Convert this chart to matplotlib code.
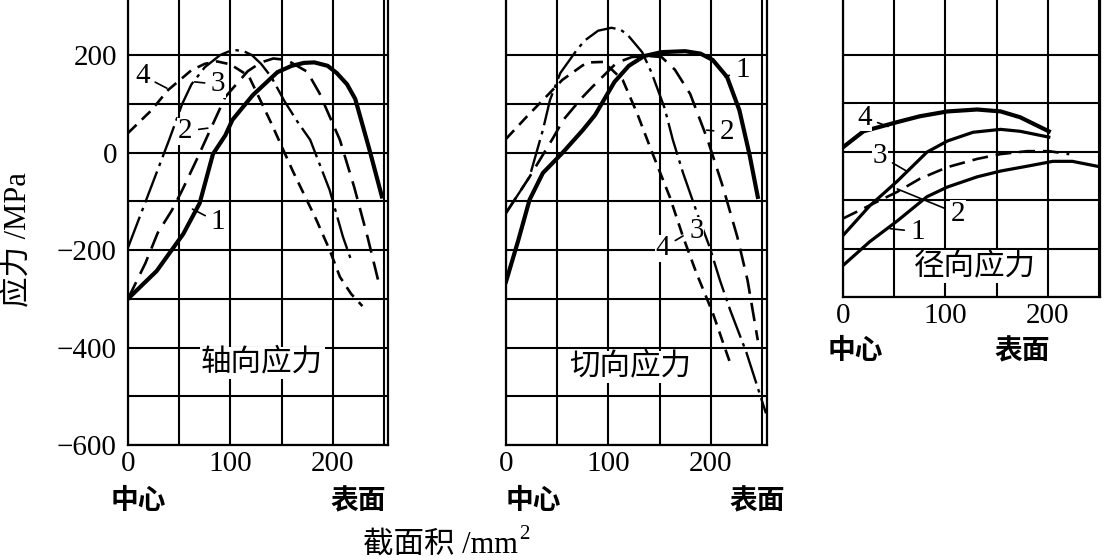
import matplotlib
matplotlib.use("Agg")
import matplotlib.pyplot as plt

plt.rcParams['font.family'] = ['Liberation Serif', 'Noto Sans CJK SC']

# ---- data (x: 截面积 mm^2, y: 应力 MPa) ----
# 轴向应力
axial_x1 = [0, 28, 54, 70, 83, 95, 102, 122, 146, 160, 172, 182, 195, 204, 214, 222, 236, 248]
axial_y1 = [-300, -243, -167, -104, -3, 35, 67, 118, 165, 178, 184, 185, 178, 163, 140, 110, 5, -90]
axial_x2 = [0, 17, 29, 43, 53, 67, 80, 95, 117, 130, 142, 155, 175, 187, 207, 221, 234, 246]
axial_y2 = [-300, -227, -165, -118, -77, -15, 45, 114, 167, 185, 193, 190, 166, 122, 26, -71, -173, -276]
axial_x3 = [0, 20, 40, 53, 62, 75, 90, 98, 106, 114, 121, 130, 140, 153, 165, 178, 197, 210, 219]
axial_y3 = [-195, -85, 25, 100, 140, 175, 200, 207, 210, 207, 200, 182, 155, 105, 65, 26, -77, -173, -227]
axial_x4 = [0, 23, 39, 62, 75, 87, 100, 118, 140, 161, 184, 197, 207, 218, 229]
axial_y4 = [40, 87, 128, 169, 182, 187, 181, 157, 60, -38, -138, -200, -255, -290, -315]

# 切向应力
tang_x1 = [0, 12, 23, 36, 55, 75, 87, 106, 120, 135, 152, 175, 190, 202, 216, 228, 238, 246]
tang_y1 = [-265, -180, -97, -42, -1, 46, 77, 145, 178, 198, 206, 208, 203, 190, 155, 87, -5, -91]
tang_x2 = [0, 23, 46, 56, 74, 84, 108, 123, 140, 152, 165, 180, 197, 212, 226, 236, 246]
tang_y2 = [-124, -50, 30, 67, 112, 134, 184, 196, 198, 196, 170, 120, 26, -71, -173, -262, -385]
tang_x3 = [0, 23, 36, 43, 53, 69, 77, 90, 103, 112, 119, 133, 142, 155, 163, 173, 189, 199, 209, 219, 235, 254]
tang_y3 = [-124, -50, 46, 108, 163, 210, 230, 250, 256, 252, 241, 206, 165, 91, 26, -42, -138, -194, -262, -323, -411, -535]
tang_x4 = [0, 20, 38, 55, 75, 82, 95, 101, 114, 128, 143, 160, 173, 186, 202, 219]
tang_y4 = [28, 73, 112, 149, 179, 185, 186, 175, 149, 81, -1, -91, -173, -247, -329, -432]

# 径向应力
rad_x1 = [0, 26, 53, 82, 102, 131, 154, 180, 205, 224, 248]
rad_y1 = [-235, -186, -143, -93, -73, -52, -40, -30, -20, -20, -30]
rad_x2 = [0, 53, 75, 102, 131, 154, 180, 201, 221]
rad_y2 = [-138, -83, -56, -32, -15, -5, 1, 1, -5]
rad_x3 = [0, 26, 53, 82, 102, 127, 154, 173, 201]
rad_y3 = [-173, -112, -61, -1, 22, 40, 46, 42, 30]
rad_x4 = [0, 20, 53, 75, 102, 131, 154, 173, 201]
rad_y4 = [9, 42, 61, 73, 83, 87, 83, 71, 42]

xtick_vals = [0, 100, 200]
xtick_labels = ['0', '100', '200']
ytick_vals = [-600, -400, -200, 0, 200]
ytick_labels = ['\u2212600', '\u2212400', '\u2212200', '0', '200']

W, H = 1104, 560
fig = plt.figure(figsize=(W / 100, H / 100), dpi=100)


def px_axes(left, right, top, bottom):
    # axes placed by pixel edges of the reference picture
    return fig.add_axes([left / W, 1 - bottom / H, (right - left) / W, (bottom - top) / H])


def setup(ax, xmax, ymin, ylabels):
    ax.set_xlim(0, xmax)
    ax.set_ylim(ymin, 313)
    ax.set_xticks(xtick_vals)
    ax.set_xticklabels(xtick_labels, fontsize=21)
    ax.set_xticks([50, 150, 250], minor=True)
    yt = [v for v in ytick_vals if v >= ymin]
    ax.set_yticks(yt)
    if ylabels:
        ax.set_yticklabels([ytick_labels[ytick_vals.index(v)] for v in yt], fontsize=21)
    else:
        ax.set_yticklabels([])
    ax.set_yticks([v for v in (-500, -300, -100, 100) if v >= ymin], minor=True)
    ax.tick_params(which='both', length=0)
    ax.tick_params(axis='x', pad=4)
    ax.tick_params(axis='y', pad=8)
    ax.grid(True, which='both', color='black', lw=1.5, zorder=0)
    ax.set_axisbelow(True)
    ax.spines['top'].set_visible(False)
    for s in ('left', 'bottom', 'right'):
        ax.spines[s].set_linewidth(1.6)


def label(ax, txt, xy, xytext, lead=True):
    if lead:
        ax.annotate(txt, xy=xy, xytext=xytext, fontsize=21, ha='center', va='center',
                    arrowprops=dict(arrowstyle='-', lw=1.2, color='black', shrinkA=4, shrinkB=0),
                    bbox=dict(fc='white', ec='none', pad=0.5), zorder=5)
    else:
        ax.text(*xytext, txt, fontsize=21, ha='center', va='center',
                bbox=dict(fc='white', ec='none', pad=0.5), zorder=5)


thick = dict(color='black', lw=3.0, zorder=3, solid_joinstyle='round')
longdash = dict(color='black', lw=1.9, ls=(0, (7, 3.5)), zorder=3)
dashdot = dict(color='black', lw=1.7, ls=(0, (14, 2.5, 1.5, 2.5)), zorder=3)
shortdash = dict(color='black', lw=1.9, ls=(0, (4.5, 2.8)), zorder=3)
medium = dict(color='black', lw=2.3, zorder=3, solid_joinstyle='round')
title_box = dict(fc='white', ec='none', pad=1)

# axial panel
ax1 = px_axes(128, 388, 0, 445)
setup(ax1, 254, -600, True)
ax1.plot(axial_x1, axial_y1, **thick)
ax1.plot(axial_x2, axial_y2, **longdash)
ax1.plot(axial_x3, axial_y3, **dashdot)
ax1.plot(axial_x4, axial_y4, **shortdash)
label(ax1, '4', (38, 132), (14, 158))
label(ax1, '3', (65, 145), (88, 140))
label(ax1, '2', (78, 50), (56, 44))
label(ax1, '1', (63, -116), (88, -143))
ax1.text(131, -432, '轴向应力', fontsize=22, ha='center', va='center', bbox=title_box, zorder=5)

# tangential panel
ax2 = px_axes(506, 767, 0, 445)
setup(ax2, 255, -600, False)
ax2.plot(tang_x1, tang_y1, **thick)
ax2.plot(tang_x2, tang_y2, **longdash)
ax2.plot(tang_x3, tang_y3, **dashdot)
ax2.plot(tang_x4, tang_y4, **shortdash)
label(ax2, '1', (214, 155), (231, 169))
label(ax2, '2', (196, 46), (216, 42))
label(ax2, '3', (186, -160), (186, -160), lead=False)
label(ax2, '4', (173, -171), (153, -196))
ax2.text(121, -440, '切向应力', fontsize=22, ha='center', va='center', bbox=title_box, zorder=5)

# radial panel
ax3 = px_axes(843, 1100, 0, 297)
setup(ax3, 251, -300, False)
ax3.plot(rad_x1, rad_y1, **medium)
ax3.plot(rad_x2, rad_y2, color='black', lw=1.9, ls=(0, (6, 3)), zorder=3)
ax3.plot(rad_x3, rad_y3, **medium)
ax3.plot(rad_x4, rad_y4, **thick)
label(ax3, '4', (44, 52), (21, 70))
label(ax3, '3', (62, -40), (36, -8))
label(ax3, '2', (53, -77), (112, -128))
label(ax3, '1', (46, -159), (73, -165))
ax3.text(129, -237, '径向应力', fontsize=22, ha='center', va='center', bbox=title_box, zorder=5)

# center / surface marks and axis titles
for x, y, t in [(138, 502, '中心'), (358, 502, '表面'), (533, 502, '中心'),
                (757, 502, '表面'), (855, 352, '中心'), (1022, 352, '表面')]:
    fig.text(x / W, 1 - y / H, t, fontsize=20, fontweight='bold', ha='center', va='center')

fig.text(18 / W, 1 - 240 / H, '应力 /MPa', fontsize=22, rotation=90, ha='center', va='center')
xl = fig.text(363 / W, 1 - 545 / H, '截面积 /mm', fontsize=22, ha='left', va='center')
# superscript 2 placed right after the rendered label
fig.canvas.draw()
bb = xl.get_window_extent()
fig.text((bb.x1 + 1) / W, (bb.y1 - 4) / H, '2', fontsize=15, ha='left', va='center')

fig.savefig('out.png', dpi=100, facecolor='white')
